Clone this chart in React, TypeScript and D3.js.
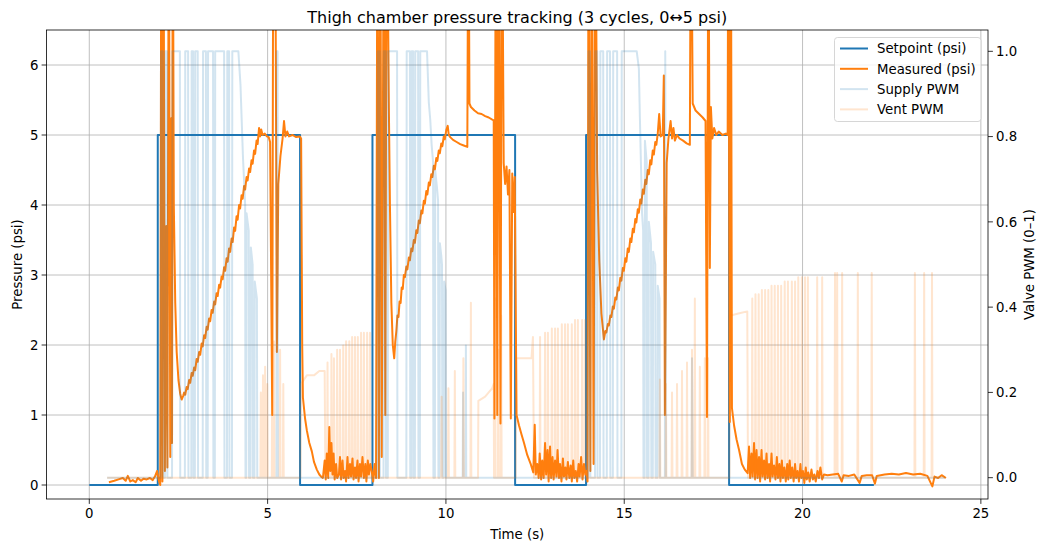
import React from "react";
import * as d3 from "d3";

type P = [number, number];

// ---------- data ----------
const setpointKnots: P[] = [
  [0, 0], [1.92, 5], [5.91, 0], [7.94, 5], [11.94, 0], [13.93, 5], [17.94, 0], [22.0, 0],
];

const measured: P[] = [
  [0.55, 0.04], [0.7, 0.06], [0.82, 0.08], [0.94, 0.1], [1.02, 0.06], [1.08, 0.13], [1.15, 0.05], [1.22, 0.07],
  [1.3, 0.04], [1.36, 0.1], [1.45, 0.06], [1.52, 0.09], [1.61, 0.08], [1.7, 0.1], [1.78, 0.07], [1.84, 0.12],
  [1.9, 0.2], [1.95, 0.06], [1.99, 0.0],
  // cycle 1 rise
  [2.02, 9], [2.05, 0.05], [2.08, 9], [2.12, 0.2], [2.16, 3.7], [2.19, 0.25], [2.23, 9], [2.27, 0.4], [2.3, 5.24],
  [2.32, 0.6], [2.34, 9], [2.37, 4.0], [2.41, 2.6], [2.45, 1.9], [2.5, 1.5], [2.55, 1.3], [2.59, 1.22], [2.63, 1.27],
  [2.66, 1.32], [2.69, 1.29], [2.73, 1.4], [2.76, 1.37], [2.8, 1.5], [2.83, 1.46], [2.87, 1.6], [2.9, 1.56],
  [2.94, 1.68], [2.97, 1.64], [3.01, 1.8], [3.04, 1.76], [3.08, 1.9], [3.11, 1.86], [3.15, 2.02], [3.18, 1.98],
  [3.22, 2.14], [3.25, 2.1], [3.29, 2.26], [3.32, 2.22], [3.36, 2.38], [3.39, 2.34], [3.43, 2.5], [3.46, 2.46],
  [3.5, 2.62], [3.53, 2.58], [3.57, 2.74], [3.6, 2.7], [3.64, 2.86], [3.67, 2.82], [3.71, 2.98], [3.74, 2.94],
  [3.78, 3.11], [3.81, 3.06], [3.85, 3.24], [3.88, 3.19], [3.92, 3.38], [3.95, 3.33], [3.99, 3.52], [4.02, 3.47],
  [4.06, 3.68], [4.09, 3.63], [4.13, 3.84], [4.16, 3.79], [4.2, 4.0], [4.23, 3.95], [4.27, 4.14], [4.3, 4.09],
  [4.34, 4.27], [4.37, 4.22], [4.41, 4.4], [4.44, 4.35], [4.48, 4.52], [4.51, 4.47], [4.55, 4.64], [4.58, 4.59],
  [4.62, 4.78], [4.65, 4.73], [4.69, 4.92], [4.72, 4.87], [4.76, 5.1], [4.79, 4.98], [4.82, 5.08], [4.86, 5.0],
  [4.92, 5.02], [4.98, 4.98], [5.03, 4.97], [5.07, 4.9], [5.13, 1.0], [5.16, 9], [5.21, 9], [5.26, 1.9],
  [5.3, 4.3], [5.36, 4.7], [5.42, 4.95], [5.46, 5.2], [5.5, 4.98], [5.55, 5.05], [5.6, 4.98], [5.7, 5.0],
  [5.8, 4.97], [5.9, 4.98], [5.94, 4.95],
  // cycle 1 fall
  [5.97, 2.0], [5.99, 1.25], [6.05, 0.95], [6.1, 0.78], [6.17, 0.6], [6.24, 0.48], [6.3, 0.33], [6.38, 0.22],
  [6.45, 0.15], [6.5, 0.12], [6.55, 0.1], [6.6, 0.35], [6.63, 0.08], [6.66, 0.45], [6.7, 0.1], [6.73, 0.83],
  [6.76, 0.2], [6.79, 0.6], [6.82, 0.15], [6.85, 0.45], [6.88, 0.08], [6.92, 0.3], [6.95, 0.1], [7.0, 0.15],
  [7.03, 0.4], [7.06, 0.08], [7.1, 0.35], [7.13, 0.1], [7.17, 0.2], [7.2, 0.05], [7.24, 0.4], [7.27, 0.1],
  [7.31, 0.3], [7.34, 0.12], [7.38, 0.38], [7.41, 0.08], [7.45, 0.25], [7.48, 0.1], [7.52, 0.35], [7.55, 0.05],
  [7.59, 0.3], [7.62, 0.12], [7.66, 0.4], [7.7, 0.1], [7.74, 0.3], [7.77, 0.05], [7.81, 0.35], [7.84, 0.15],
  [7.88, 0.3], [7.92, 0.2], [7.96, 0.05],
  // cycle 2 rise
  [8.0, 0.3], [8.04, 0.1], [8.08, 9], [8.12, 0.1], [8.16, 9], [8.2, 0.4], [8.26, 9], [8.3, 1.0], [8.34, 9],
  [8.4, 5.4], [8.43, 4.0], [8.47, 2.6], [8.51, 2.0], [8.55, 1.81], [8.58, 2.05], [8.61, 2.2], [8.64, 2.42],
  [8.67, 2.4], [8.7, 2.62], [8.73, 2.6], [8.76, 2.82], [8.79, 2.8], [8.82, 3.0], [8.85, 2.97], [8.89, 3.12],
  [8.92, 3.08], [8.96, 3.25], [8.99, 3.21], [9.03, 3.38], [9.06, 3.34], [9.1, 3.5], [9.13, 3.46], [9.17, 3.64],
  [9.2, 3.6], [9.24, 3.78], [9.27, 3.74], [9.31, 3.92], [9.34, 3.88], [9.38, 4.06], [9.41, 4.02], [9.45, 4.2],
  [9.48, 4.15], [9.52, 4.32], [9.55, 4.28], [9.59, 4.44], [9.62, 4.4], [9.66, 4.56], [9.69, 4.51], [9.73, 4.67],
  [9.76, 4.63], [9.8, 4.78], [9.83, 4.74], [9.87, 4.88], [9.9, 4.84], [9.94, 4.98], [9.97, 4.94], [10.01, 5.07],
  [10.05, 5.13], [10.08, 5.0], [10.12, 4.97], [10.2, 4.93], [10.3, 4.9], [10.4, 4.87], [10.5, 4.85], [10.6, 4.83],
  [10.63, 9], [10.66, 5.45], [10.7, 5.4], [10.8, 5.35], [10.9, 5.31], [11.0, 5.3], [11.1, 5.27], [11.2, 5.25],
  [11.3, 5.22], [11.34, 5.21],
  // cycle 2 fall
  [11.36, 0.95], [11.4, 9], [11.44, 1.0], [11.48, 9], [11.53, 0.88], [11.57, 9], [11.62, 4.6], [11.66, 4.3],
  [11.7, 4.55], [11.74, 4.15], [11.78, 4.5], [11.82, 0.95], [11.86, 4.45], [11.89, 3.9], [11.93, 4.4],
  [11.98, 1.0], [12.05, 0.85], [12.12, 0.72], [12.19, 0.6], [12.28, 0.43], [12.37, 0.31], [12.45, 0.18],
  [12.49, 0.86], [12.52, 0.15], [12.56, 0.3], [12.6, 0.1], [12.63, 0.45], [12.67, 0.08], [12.7, 0.35],
  [12.74, 0.1], [12.78, 0.6], [12.81, 0.15], [12.85, 0.5], [12.88, 0.05], [12.92, 0.55], [12.95, 0.1],
  [12.99, 0.4], [13.02, 0.08], [13.06, 0.35], [13.1, 0.12], [13.13, 0.5], [13.17, 0.1], [13.2, 0.3],
  [13.24, 0.05], [13.28, 0.38], [13.31, 0.12], [13.35, 0.25], [13.38, 0.08], [13.42, 0.33], [13.46, 0.1],
  [13.5, 0.28], [13.53, 0.05], [13.57, 0.35], [13.6, 0.1], [13.64, 0.2], [13.68, 0.05], [13.72, 0.3],
  [13.75, 0.12], [13.79, 0.4], [13.83, 0.08], [13.87, 0.3], [13.91, 0.15], [13.94, 0.2], [13.97, 0.05],
  // cycle 3 rise
  [14.0, 9], [14.05, 0.2], [14.09, 9], [14.14, 0.3], [14.19, 9], [14.24, 4.5], [14.3, 3.2], [14.36, 2.45],
  [14.43, 2.08], [14.47, 2.2], [14.5, 2.18], [14.54, 2.3], [14.57, 2.28], [14.61, 2.42], [14.64, 2.4],
  [14.68, 2.55], [14.71, 2.52], [14.75, 2.68], [14.78, 2.65], [14.82, 2.82], [14.85, 2.78], [14.89, 2.96],
  [14.92, 2.92], [14.96, 3.1], [14.99, 3.06], [15.03, 3.24], [15.06, 3.19], [15.1, 3.38], [15.13, 3.33],
  [15.17, 3.52], [15.2, 3.47], [15.24, 3.66], [15.27, 3.61], [15.31, 3.8], [15.34, 3.75], [15.38, 3.94],
  [15.41, 3.89], [15.45, 4.08], [15.48, 4.02], [15.52, 4.22], [15.55, 4.16], [15.59, 4.36], [15.62, 4.3],
  [15.66, 4.5], [15.69, 4.44], [15.73, 4.64], [15.76, 4.58], [15.8, 4.78], [15.83, 4.72], [15.87, 4.9],
  [15.9, 4.86], [15.94, 5.02], [15.98, 5.3], [16.02, 4.98], [16.08, 5.0], [16.11, 5.85], [16.14, 1.0],
  [16.19, 4.6], [16.24, 4.95], [16.3, 5.2], [16.34, 4.95], [16.38, 5.1], [16.42, 4.92], [16.48, 5.0],
  [16.55, 4.95], [16.65, 4.92], [16.75, 4.88], [16.84, 4.86], [16.87, 9], [16.92, 5.45], [17.0, 5.35],
  [17.1, 5.3], [17.2, 5.25], [17.28, 5.2], [17.32, 0.97], [17.36, 9], [17.4, 3.1], [17.43, 5.4], [17.47, 4.95],
  [17.52, 5.1], [17.58, 5.0], [17.65, 5.05], [17.75, 5.0], [17.85, 5.02], [17.9, 5.0],
  // cycle 3 fall
  [17.92, 9], [17.96, 0.9], [17.99, 9], [18.02, 1.1], [18.08, 0.85], [18.15, 0.65], [18.22, 0.5], [18.3, 0.3],
  [18.38, 0.22], [18.46, 0.17], [18.5, 0.55], [18.53, 0.1], [18.57, 0.45], [18.6, 0.12], [18.64, 0.6],
  [18.67, 0.08], [18.71, 0.5], [18.74, 0.1], [18.78, 0.4], [18.81, 0.05], [18.85, 0.5], [18.88, 0.12],
  [18.92, 0.35], [18.95, 0.08], [18.99, 0.45], [19.02, 0.1], [19.06, 0.3], [19.09, 0.05], [19.13, 0.45],
  [19.16, 0.12], [19.2, 0.28], [19.24, 0.08], [19.28, 0.4], [19.31, 0.1], [19.35, 0.3], [19.38, 0.05],
  [19.42, 0.35], [19.45, 0.1], [19.49, 0.25], [19.53, 0.05], [19.57, 0.3], [19.6, 0.08], [19.64, 0.35],
  [19.67, 0.1], [19.71, 0.25], [19.75, 0.05], [19.79, 0.3], [19.82, 0.1], [19.86, 0.2], [19.9, 0.05],
  [19.94, 0.3], [19.97, 0.1], [20.01, 0.2], [20.05, 0.03], [20.09, 0.25], [20.12, 0.08], [20.16, 0.18],
  [20.2, 0.05], [20.25, 0.22], [20.29, 0.08], [20.33, 0.15], [20.37, 0.05], [20.42, 0.2], [20.46, 0.1],
  [20.5, 0.25], [20.55, 0.08], [20.6, 0.15],
  // tail
  [20.7, 0.14], [20.85, 0.15], [21.0, 0.16], [21.1, 0.05], [21.15, 0.14], [21.3, 0.13], [21.45, 0.15],
  [21.6, 0.03], [21.66, 0.13], [21.8, 0.14], [21.95, 0.14], [22.03, 0.02], [22.08, 0.13], [22.3, 0.15],
  [22.5, 0.16], [22.7, 0.15], [22.9, 0.17], [23.1, 0.15], [23.3, 0.16], [23.5, 0.13], [23.64, -0.02],
  [23.7, 0.12], [23.8, 0.1], [23.9, 0.14], [24.02, 0.1],
];

const supply: P[] = [
  [0.5, 0], [2.0, 0], [2.01, 1], [2.06, 1], [2.07, 0], [2.12, 0], [2.13, 1], [2.18, 1], [2.19, 0],
  [2.32, 0], [2.33, 1], [2.54, 1], [2.55, 0], [2.68, 0], [2.69, 1], [2.77, 1], [2.78, 0], [2.86, 0],
  [2.87, 1], [2.91, 1], [2.92, 0], [2.96, 0], [2.97, 1], [3.04, 1], [3.05, 0], [3.18, 0], [3.19, 1],
  [3.27, 1], [3.28, 0], [3.32, 0], [3.33, 1], [3.47, 1], [3.48, 0], [3.52, 0], [3.53, 1], [3.78, 1],
  [3.79, 0], [3.86, 0], [3.87, 1], [3.92, 1], [3.93, 0], [4.0, 0], [4.01, 1], [4.18, 1], [4.24, 0.92],
  [4.31, 0.75], [4.37, 0.64], [4.38, 0], [4.4, 0], [4.41, 0.62], [4.47, 0.58], [4.48, 0], [4.52, 0],
  [4.53, 0.54], [4.58, 0.5], [4.59, 0], [4.63, 0], [4.64, 0.46], [4.7, 0.42], [4.71, 0], [5.25, 0],
  [5.26, 1], [5.28, 1], [5.29, 0],
  [8.08, 0], [8.09, 1], [8.14, 1], [8.15, 0], [8.25, 0], [8.26, 1], [8.31, 1], [8.32, 0], [8.37, 0],
  [8.38, 1], [8.63, 1], [8.64, 0], [8.89, 0], [8.9, 1], [8.99, 1], [9.0, 0], [9.03, 0], [9.04, 1],
  [9.08, 1], [9.09, 0], [9.13, 0], [9.14, 1], [9.22, 1], [9.23, 0], [9.27, 0], [9.28, 1], [9.47, 1],
  [9.52, 0.88], [9.56, 0.84], [9.6, 0.78], [9.64, 0.74], [9.65, 0], [9.69, 0], [9.7, 0.72], [9.75, 0.68],
  [9.78, 0.65], [9.79, 0], [9.82, 0], [9.83, 0.55], [9.87, 0.52], [9.89, 0.5], [9.9, 0], [9.94, 0],
  [9.95, 0.46], [9.99, 0.44], [10.0, 0], [10.47, 0], [10.48, 0.2], [10.49, 0], [10.55, 0], [10.56, 0.31],
  [10.57, 0],
  [13.99, 0], [14.0, 1], [14.04, 1], [14.05, 0], [14.18, 0], [14.19, 1], [14.24, 1], [14.25, 0], [14.32, 0],
  [14.33, 1], [14.41, 1], [14.42, 0], [14.51, 0], [14.52, 1], [14.6, 1], [14.61, 0], [14.68, 0], [14.69, 1],
  [14.8, 1], [14.81, 0], [14.92, 0], [14.93, 1], [15.35, 1], [15.41, 0.96], [15.44, 0.84], [15.5, 0.62],
  [15.53, 0.58], [15.54, 0], [15.57, 0], [15.58, 0.79], [15.63, 0.74], [15.64, 0], [15.68, 0], [15.69, 0.6],
  [15.75, 0.55], [15.76, 0], [15.8, 0], [15.81, 0.53], [15.87, 0.5], [15.88, 0], [15.93, 0], [15.94, 0.45],
  [15.99, 0.42], [16.0, 0], [16.14, 0], [16.15, 1], [16.17, 0], [16.89, 0], [16.9, 0.28], [16.92, 0],
  [24.0, 0],
];

// vent PWM: holds (knots) plus short pulses (time, height)
const ventKnots: P[] = [
  [0.5, 0], [5.92, 0], [5.94, 0.22], [6.1, 0.24], [6.3, 0.24], [6.45, 0.25], [6.6, 0.25], [6.62, 0],
  [10.9, 0], [10.91, 0.18], [11.1, 0.19], [11.3, 0.21], [11.34, 0.22], [11.35, 0],
  [11.96, 0], [11.97, 0.28], [12.4, 0.28], [12.44, 0.33], [12.47, 0],
  [17.95, 0], [17.96, 0.38], [18.2, 0.385], [18.45, 0.39], [18.47, 0],
  [24.0, 0],
];
const ventPulses: P[] = [
  [4.81, 0.2], [4.87, 0.24], [4.93, 0.26], [4.99, 0.22], [5.13, 0.3], [5.18, 0.32], [5.35, 0.3], [5.44, 0.22],
  [6.68, 0.27], [6.79, 0.29], [6.86, 0.28], [6.95, 0.3], [7.03, 0.3], [7.12, 0.31], [7.2, 0.32], [7.29, 0.32],
  [7.37, 0.33], [7.45, 0.33], [7.53, 0.33], [7.62, 0.34], [7.7, 0.34], [7.79, 0.34], [7.87, 0.34],
  [9.88, 0.19], [10.07, 0.21], [10.25, 0.25], [10.49, 0.28], [10.7, 0.41], [11.38, 0.42], [11.47, 0.3],
  [11.55, 0.38], [12.64, 0.33], [12.78, 0.34], [12.86, 0.34], [12.97, 0.35], [13.06, 0.35], [13.14, 0.35],
  [13.25, 0.36], [13.34, 0.36], [13.42, 0.36], [13.53, 0.36], [13.62, 0.37], [13.7, 0.37], [13.82, 0.37],
  [13.9, 0.37], [16.0, 0.23], [16.17, 0.22], [16.34, 0.2], [16.48, 0.22], [16.62, 0.25], [16.76, 0.27],
  [16.9, 0.3], [16.98, 0.42], [17.12, 0.26], [17.26, 0.28], [17.35, 0.28],
  [18.59, 0.42], [18.68, 0.43], [18.77, 0.43], [18.86, 0.44], [18.95, 0.44], [19.04, 0.44], [19.13, 0.45],
  [19.22, 0.45], [19.31, 0.45], [19.4, 0.45], [19.5, 0.46], [19.59, 0.46], [19.7, 0.46], [19.79, 0.46],
  [19.88, 0.47], [19.98, 0.47], [20.07, 0.47], [20.15, 0.47], [20.41, 0.47], [20.55, 0.47],
  [20.91, 0.48], [20.97, 0.48], [21.11, 0.48], [21.55, 0.48], [21.94, 0.48], [23.15, 0.48], [23.41, 0.48],
  [23.63, 0.48],
];

const xTicks = [0, 5, 10, 15, 20, 25];
const yLeftTicks = [0, 1, 2, 3, 4, 5, 6];
const yRightTicks = [0, 0.2, 0.4, 0.6, 0.8, 1.0];

const legendItems = [
  { label: "Setpoint (psi)", color: "#1f77b4", opacity: 1 },
  { label: "Measured (psi)", color: "#ff7f0e", opacity: 1 },
  { label: "Supply PWM", color: "#1f77b4", opacity: 0.2 },
  { label: "Vent PWM", color: "#ff7f0e", opacity: 0.2 },
];

// ---------- chart ----------
const W = 1037;
const H = 543;
const L = 46.5, R = 988, T = 30, B = 499;
const FONT = "DejaVu Sans, sans-serif";
const FS = 13.3;

function withPulses(knots: P[], pulses: P[], w = 0.012): P[] {
  const pts: P[] = knots.slice();
  pulses.forEach(([t, h]) => {
    pts.push([t - w, 0], [t, h], [t + w, 0]);
  });
  return pts.sort((a, b) => a[0] - b[0]);
}

export default function App() {
  const x = d3.scaleLinear().domain([-1.2, 25.2]).range([L, R]);
  const yL = d3.scaleLinear().domain([-0.2, 6.5]).range([B, T]);
  const yR = d3.scaleLinear().domain([-0.05, 1.05]).range([B, T]);

  const lineL = d3.line<P>().x((d) => x(d[0])).y((d) => yL(d[1]));
  const lineR = d3.line<P>().x((d) => x(d[0])).y((d) => yR(d[1]));
  const stepL = d3.line<P>().x((d) => x(d[0])).y((d) => yL(d[1])).curve(d3.curveStepAfter);

  const ventPts = withPulses(ventKnots, ventPulses);

  return (
    <svg width={W} height={H} style={{ position: "fixed", left: 0, top: 0, background: "#fff" }} fontFamily={FONT}>
      <defs>
        <clipPath id="plot">
          <rect x={L} y={T} width={R - L} height={B - T} />
        </clipPath>
      </defs>
      <rect x={0} y={0} width={W} height={H} fill="#fff" />
      {/* grid */}
      <g stroke="#b0b0b0" strokeWidth={0.8}>
        {xTicks.map((t) => (
          <line key={"gx" + t} x1={x(t)} x2={x(t)} y1={T} y2={B} />
        ))}
        {yLeftTicks.map((t) => (
          <line key={"gy" + t} x1={L} x2={R} y1={yL(t)} y2={yL(t)} />
        ))}
      </g>
      <g clipPath="url(#plot)" fill="none" strokeLinejoin="round">
        <path d={stepL(setpointKnots) || ""} stroke="#1f77b4" strokeWidth={2} />
        <path d={lineL(measured) || ""} stroke="#ff7f0e" strokeWidth={2} />
        <path d={lineR(supply) || ""} stroke="#1f77b4" strokeOpacity={0.2} strokeWidth={2} />
        <path d={lineR(ventPts) || ""} stroke="#ff7f0e" strokeOpacity={0.2} strokeWidth={2} />
      </g>
      {/* spines */}
      <rect x={L} y={T} width={R - L} height={B - T} fill="none" stroke="#000" strokeWidth={0.8} />
      {/* ticks and labels */}
      <g fontSize={FS} fill="#000">
        {xTicks.map((t) => (
          <g key={"xt" + t}>
            <line x1={x(t)} x2={x(t)} y1={B} y2={B + 4.9} stroke="#000" strokeWidth={0.8} />
            <text x={x(t)} y={518} textAnchor="middle">{t}</text>
          </g>
        ))}
        {yLeftTicks.map((t) => (
          <g key={"yl" + t}>
            <line x1={L - 4.9} x2={L} y1={yL(t)} y2={yL(t)} stroke="#000" strokeWidth={0.8} />
            <text x={L - 8} y={yL(t) + 4.8} textAnchor="end">{t}</text>
          </g>
        ))}
        {yRightTicks.map((t) => (
          <g key={"yr" + t}>
            <line x1={R} x2={R + 4.9} y1={yR(t)} y2={yR(t)} stroke="#000" strokeWidth={0.8} />
            <text x={R + 8} y={yR(t) + 4.8} textAnchor="start">{t.toFixed(1)}</text>
          </g>
        ))}
        <text x={(L + R) / 2} y={539} textAnchor="middle">Time (s)</text>
        <text transform={`translate(21.5,${(T + B) / 2}) rotate(-90)`} textAnchor="middle">Pressure (psi)</text>
        <text transform={`translate(1033.5,${(T + B) / 2}) rotate(-90)`} textAnchor="middle">Valve PWM (0–1)</text>
        <text x={(L + R) / 2} y={23} textAnchor="middle" fontSize={16}>
          Thigh chamber pressure tracking (3 cycles, 0↔5 psi)
        </text>
      </g>
      {/* legend */}
      <g>
        <rect x={834.5} y={37.5} width={146.5} height={84} rx={3} fill="#fff" fillOpacity={0.8} stroke="#cccccc" strokeWidth={0.8} />
        {legendItems.map((it, i) => {
          const yy = 48.5 + i * 20.3;
          return (
            <g key={it.label}>
              <line x1={840} x2={868} y1={yy} y2={yy} stroke={it.color} strokeOpacity={it.opacity} strokeWidth={2} />
              <text x={877} y={yy + 4.8} fontSize={FS} fill="#000">{it.label}</text>
            </g>
          );
        })}
      </g>
    </svg>
  );
}
